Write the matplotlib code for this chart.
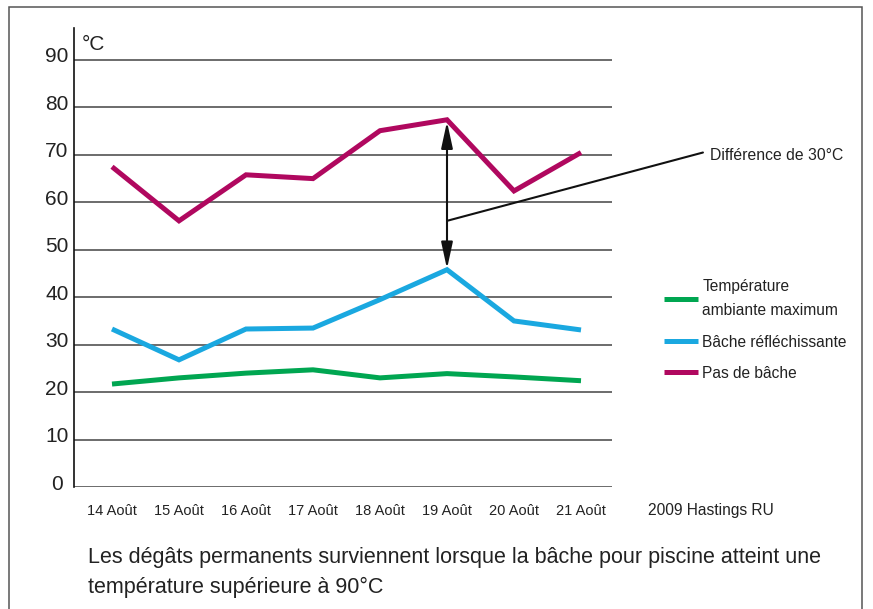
import matplotlib
matplotlib.use("Agg")
import matplotlib.pyplot as plt
import matplotlib.transforms as mtransforms
from matplotlib.patches import Rectangle

plt.rcParams['font.family'] = ['Liberation Sans', 'DejaVu Sans']

days = ["14 Août", "15 Août", "16 Août", "17 Août", "18 Août", "19 Août", "20 Août", "21 Août"]
ambient = [21.7, 23.0, 24.0, 24.7, 23.0, 23.9, 23.2, 22.4]
reflective = [33.3, 26.8, 33.3, 33.5, 39.5, 45.8, 35.0, 33.1]
no_cover = [67.5, 56.1, 65.8, 65.0, 75.1, 77.4, 62.4, 70.5]
yticks = [0, 10, 20, 30, 40, 50, 60, 70, 80, 90]
labels = ["Température\nambiante maximum", "Bâche réfléchissante", "Pas de bâche"]
colors = ["#00A651", "#1AA8E0", "#B0085F"]

W, H = 873, 609
fig = plt.figure(figsize=(W / 100, H / 100), dpi=100)

def fx(px):
    return px / W

def fy(py):
    return 1 - py / H

# outer border
fig.patches.append(Rectangle((fx(9), fy(640)), fx(862) - fx(9), fy(7) - fy(640),
                             transform=fig.transFigure, fill=False,
                             edgecolor="#555555", linewidth=1.1))

ax = fig.add_axes([fx(74), fy(487), fx(612) - fx(74), fy(28) - fy(487)])
x = list(range(len(days)))
ymax = (487 - 28) / ((487 - 60) / 90)
ax.set_ylim(0, ymax)
ax.set_xlim(-38 / 67, (612 - 112) / 67)

for yv in yticks:
    ax.axhline(yv, color="#444444", linewidth=1.1, zorder=1)

lines = []
for vals, c in zip([ambient, reflective, no_cover], colors):
    l, = ax.plot(x, vals, color=c, linewidth=3.6, solid_joinstyle="miter",
                 solid_capstyle="butt", zorder=3)
    lines.append(l)

for s in ["top", "right", "bottom"]:
    ax.spines[s].set_visible(False)
ax.spines["left"].set_color("#111111")
ax.spines["left"].set_linewidth(1.2)

ax.set_yticks(yticks)
ax.set_yticklabels([str(v) for v in yticks], fontsize=15, color="#222222")
ax.tick_params(axis="y", length=0, pad=12.2)
off = mtransforms.ScaledTranslation(0, 5 / 100, fig.dpi_scale_trans)
for lab in ax.get_yticklabels():
    lab.set_ha("center")
    lab.set_transform(lab.get_transform() + off)

ax.set_xticks(x)
ax.set_xticklabels(days, fontsize=10.5, color="#222222")
ax.tick_params(axis="x", length=0, pad=12)

ax.text(0.015, 0.985, "°C", transform=ax.transAxes, fontsize=15, color="#222222",
        ha="left", va="top")

# double arrow between peaks
ax.annotate("", xy=(5, reflective[5] + 0.2), xytext=(5, no_cover[5] - 0.4),
            arrowprops=dict(arrowstyle="<|-|>,head_length=1.15,head_width=0.25",
                            mutation_scale=14, color="#111111", lw=1.5,
                            shrinkA=0, shrinkB=0), zorder=4)
ax.annotate("", xy=(5, 56.1), xytext=(8.82, 70.5), textcoords="data",
            arrowprops=dict(arrowstyle="-", color="#111111", lw=1.5,
                            shrinkA=0, shrinkB=0),
            annotation_clip=False, zorder=4)
fig.text(fx(710), fy(155), "Différence de 30°C", fontsize=11.3, color="#222222",
         ha="left", va="center")

leg = fig.legend(lines, labels, loc="upper left",
                 bbox_to_anchor=(fx(658), fy(273)), frameon=False, fontsize=11.2,
                 handlelength=2.2, handletextpad=0.25, labelspacing=1.05,
                 borderaxespad=0)
for t in leg.get_texts():
    t.set_color("#222222")
    t.set_linespacing(1.75)

fig.text(fx(648), fy(510), "2009 Hastings RU", fontsize=11.2, color="#222222",
         ha="left", va="center")
fig.text(fx(88), fy(547), "Les dégâts permanents surviennent lorsque la bâche pour piscine atteint une\ntempérature supérieure à 90°C",
         fontsize=15.5, color="#222222", ha="left", va="top", linespacing=1.55)

fig.savefig("out.png", dpi=100)
